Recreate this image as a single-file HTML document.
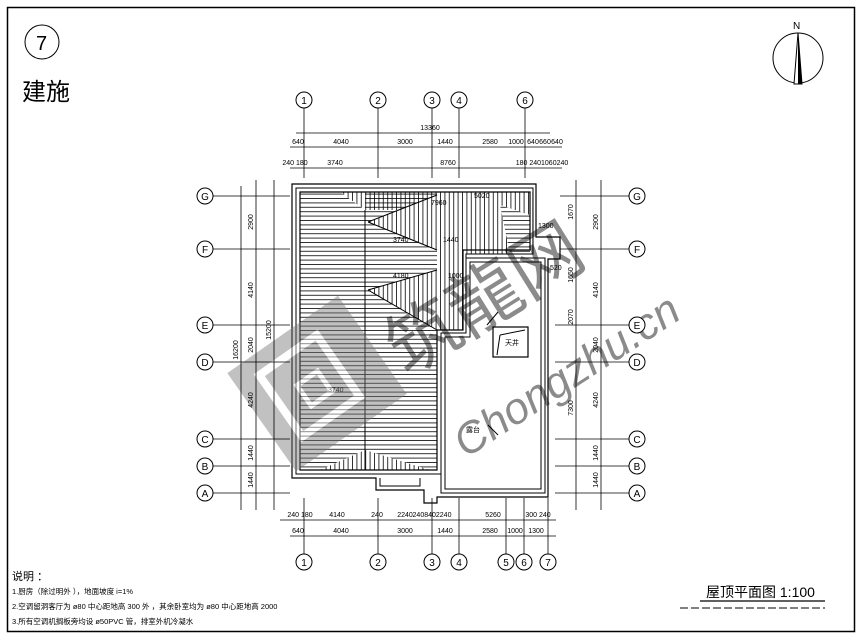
<!DOCTYPE html>
<html><head><meta charset="utf-8"><style>
html,body{margin:0;padding:0;background:#fff;}
svg{display:block;}
text{font-family:"Liberation Sans","Noto Sans CJK SC",sans-serif;fill:#000;}
.d{font-size:7px;}
</style></head><body>
<svg width="862" height="638" viewBox="0 0 862 638" xmlns="http://www.w3.org/2000/svg">
<defs>
<pattern id="hh" width="4" height="4.4" patternUnits="userSpaceOnUse"><line x1="0" y1="0.5" x2="4" y2="0.5" stroke="#000" stroke-width="0.8"/></pattern>
<pattern id="vv" width="4.4" height="4" patternUnits="userSpaceOnUse"><line x1="0.5" y1="0" x2="0.5" y2="4" stroke="#000" stroke-width="0.8"/></pattern>
</defs>
<rect x="0" y="0" width="862" height="638" fill="#fff"/>
<rect x="7.5" y="7.5" width="847" height="624" fill="none" stroke="#000" stroke-width="1.5"/>
<!-- header -->
<circle cx="42" cy="42" r="17" fill="none" stroke="#000"/>
<text x="36" y="50" font-size="20">7</text>
<text x="22" y="100" font-size="24" font-family="Noto Sans CJK SC">建施</text>
<!-- north -->
<circle cx="798" cy="58" r="25" fill="none" stroke="#000"/>
<polygon points="798,33 794,84 802,84" fill="#fff" stroke="#000"/>
<polygon points="798,33 798,84 802,84" fill="#000"/>
<text x="793" y="29" font-size="10">N</text>

<!-- roof hatching -->
<rect x="300" y="192" width="137" height="278" fill="url(#hh)"/>
<rect x="437" y="192" width="96" height="62" fill="url(#vv)"/>
<rect x="437" y="254" width="26" height="76" fill="url(#vv)"/>
<rect x="300" y="192" width="65" height="18" fill="#fff"/>
<rect x="300" y="192" width="137" height="18" fill="url(#vv)"/>
<polygon points="300,192 340,192 365,210 300,210" fill="#fff"/>
<polygon points="300,192 340,192 365,210 300,210" fill="url(#hh)"/>
<polygon points="437,195 368,222 437,250" fill="#fff"/>
<polygon points="437,195 368,222 437,250" fill="url(#vv)"/>
<polygon points="437,270 368,290 437,330" fill="#fff"/>
<polygon points="437,270 368,290 437,330" fill="url(#vv)"/>
<polygon points="500,205 530,215 530,254 510,254" fill="#fff"/>
<polygon points="500,205 530,215 530,254 510,254" fill="url(#hh)"/>
<polygon points="320,470 365,450 430,470" fill="#fff"/>
<polygon points="320,470 365,450 430,470" fill="url(#vv)"/>
<!-- roof outlines -->
<g fill="none" stroke="#000">
<path d="M292,184 H536 V237 H560 V259 H548 V497 H437 V503 H424 V490 H376 V478 H292 Z" stroke-width="1.2"/>
<path d="M296,188 H533 V254 H466 V333 H441 V474 H296 Z"/>
<path d="M300,192 H530 V250 H463 V330 H437 V470 H300 Z" stroke-width="1.2"/>
<path d="M441,333 H466 V258 H545 V493 H441 Z"/>
<path d="M445,337 H470 V262 H541 V489 H445 Z"/>
<path d="M380,478 V486 H420 V478"/>
<line x1="365" y1="210" x2="365" y2="470"/>
<line x1="437" y1="195" x2="368" y2="222"/><line x1="437" y1="250" x2="368" y2="222"/>
<line x1="437" y1="270" x2="368" y2="290"/><line x1="437" y1="330" x2="368" y2="290"/>
<rect x="493" y="327" width="35" height="30" stroke-width="1.2"/>
<line x1="500" y1="335" x2="525" y2="330"/>
<line x1="500" y1="335" x2="497" y2="355"/>
<line x1="487" y1="325" x2="498" y2="312"/>
<line x1="488" y1="425" x2="498" y2="435"/>
</g>
<text x="505" y="345" font-size="7" font-family="Noto Sans CJK SC">天井</text>
<text x="466" y="432" font-size="7" font-family="Noto Sans CJK SC">露台</text>
<g class="d" font-size="6">
<text x="431" y="205">7960</text><text x="474" y="198">5020</text><text x="393" y="242">3740</text><text x="443" y="242">1440</text>
<text x="393" y="278">4180</text><text x="448" y="278">1000</text><text x="328" y="392">3740</text><text x="538" y="228">1300</text><text x="550" y="270">520</text>
</g>

<!-- watermark -->
<g opacity="0.45">
<g transform="rotate(-35 315 385)">
<rect x="250" y="325" width="135" height="120" fill="#777"/>
<rect x="275" y="345" width="70" height="75" fill="none" stroke="#fff" stroke-width="8"/>
<rect x="300" y="375" width="25" height="25" fill="none" stroke="#fff" stroke-width="5"/>
</g>
<text x="370" y="330" font-size="72" transform="rotate(-32 470 290)" fill="#777" font-family="Noto Sans CJK SC">筑龍网</text>
<text x="410" y="410" font-size="44" font-style="italic" transform="rotate(-33 520 340)" fill="#777">Chongzhu.cn</text>
</g>

<!-- grid lines and circles -->
<g stroke="#000" stroke-width="0.8" fill="none">
<line x1="304" y1="108" x2="304" y2="178"/><line x1="378" y1="108" x2="378" y2="178"/><line x1="432" y1="108" x2="432" y2="178"/><line x1="459" y1="108" x2="459" y2="178"/><line x1="525" y1="108" x2="525" y2="178"/>
<line x1="304" y1="498" x2="304" y2="554"/><line x1="378" y1="498" x2="378" y2="554"/><line x1="432" y1="498" x2="432" y2="554"/><line x1="459" y1="498" x2="459" y2="554"/><line x1="506" y1="498" x2="506" y2="554"/><line x1="524" y1="498" x2="524" y2="554"/><line x1="548" y1="498" x2="548" y2="554"/>
<line x1="296" y1="133" x2="550" y2="133"/>
<line x1="290" y1="147" x2="562" y2="147"/>
<line x1="290" y1="168" x2="562" y2="168"/>
<line x1="280" y1="520" x2="556" y2="520"/>
<line x1="290" y1="536" x2="556" y2="536"/>
<line x1="241" y1="186" x2="241" y2="510"/><line x1="256" y1="180" x2="256" y2="510"/><line x1="274" y1="180" x2="274" y2="510"/>
<line x1="576" y1="180" x2="576" y2="510"/><line x1="601" y1="180" x2="601" y2="510"/>
<line x1="213" y1="196" x2="290" y2="196"/><line x1="213" y1="249" x2="290" y2="249"/><line x1="213" y1="325" x2="290" y2="325"/><line x1="213" y1="362" x2="290" y2="362"/><line x1="213" y1="439" x2="290" y2="439"/><line x1="213" y1="466" x2="290" y2="466"/><line x1="213" y1="493" x2="290" y2="493"/>
<line x1="560" y1="196" x2="629" y2="196"/><line x1="560" y1="249" x2="629" y2="249"/><line x1="555" y1="325" x2="629" y2="325"/><line x1="555" y1="362" x2="629" y2="362"/><line x1="555" y1="439" x2="629" y2="439"/><line x1="555" y1="466" x2="629" y2="466"/><line x1="555" y1="493" x2="629" y2="493"/>
</g>
<g fill="#fff" stroke="#000">
<circle cx="304" cy="100" r="8"/><circle cx="378" cy="100" r="8"/><circle cx="432" cy="100" r="8"/><circle cx="459" cy="100" r="8"/><circle cx="525" cy="100" r="8"/>
<circle cx="304" cy="562" r="8"/><circle cx="378" cy="562" r="8"/><circle cx="432" cy="562" r="8"/><circle cx="459" cy="562" r="8"/><circle cx="506" cy="562" r="8"/><circle cx="524" cy="562" r="8"/><circle cx="548" cy="562" r="8"/>
<circle cx="205" cy="196" r="8"/><circle cx="205" cy="249" r="8"/><circle cx="205" cy="325" r="8"/><circle cx="205" cy="362" r="8"/><circle cx="205" cy="439" r="8"/><circle cx="205" cy="466" r="8"/><circle cx="205" cy="493" r="8"/>
<circle cx="637" cy="196" r="8"/><circle cx="637" cy="249" r="8"/><circle cx="637" cy="325" r="8"/><circle cx="637" cy="362" r="8"/><circle cx="637" cy="439" r="8"/><circle cx="637" cy="466" r="8"/><circle cx="637" cy="493" r="8"/>
</g>
<g font-size="10" text-anchor="middle">
<text x="304" y="104">1</text><text x="378" y="104">2</text><text x="432" y="104">3</text><text x="459" y="104">4</text><text x="525" y="104">6</text>
<text x="304" y="566">1</text><text x="378" y="566">2</text><text x="432" y="566">3</text><text x="459" y="566">4</text><text x="506" y="566">5</text><text x="524" y="566">6</text><text x="548" y="566">7</text>
<text x="205" y="200">G</text><text x="205" y="253">F</text><text x="205" y="329">E</text><text x="205" y="366">D</text><text x="205" y="443">C</text><text x="205" y="470">B</text><text x="205" y="497">A</text>
<text x="637" y="200">G</text><text x="637" y="253">F</text><text x="637" y="329">E</text><text x="637" y="366">D</text><text x="637" y="443">C</text><text x="637" y="470">B</text><text x="637" y="497">A</text>
</g>
<g class="d" font-size="6.5" text-anchor="middle">
<text x="430" y="130">13360</text>
<text x="298" y="144">640</text><text x="341" y="144">4040</text><text x="405" y="144">3000</text><text x="445" y="144">1440</text><text x="490" y="144">2580</text><text x="516" y="144">1000</text><text x="533" y="144">640</text><text x="545" y="144">660</text><text x="557" y="144">640</text>
<text x="295" y="165">240 180</text><text x="335" y="165">3740</text><text x="448" y="165">8760</text><text x="542" y="165">180 2401060240</text>
<text x="300" y="517">240 180</text><text x="337" y="517">4140</text><text x="377" y="517">240</text><text x="405" y="517">2240</text><text x="432" y="517">2408402240</text><text x="493" y="517">5260</text><text x="538" y="517">300 240</text>
<text x="298" y="533">640</text><text x="341" y="533">4040</text><text x="405" y="533">3000</text><text x="445" y="533">1440</text><text x="490" y="533">2580</text><text x="515" y="533">1000</text><text x="536" y="533">1300</text>
</g>
<g class="d" font-size="6.5" text-anchor="middle">
<text transform="translate(253,222) rotate(-90)">2900</text><text transform="translate(253,290) rotate(-90)">4140</text><text transform="translate(253,345) rotate(-90)">2040</text><text transform="translate(253,400) rotate(-90)">4240</text><text transform="translate(253,453) rotate(-90)">1440</text><text transform="translate(253,480) rotate(-90)">1440</text>
<text transform="translate(238,350) rotate(-90)">16200</text><text transform="translate(271,330) rotate(-90)">15200</text>
<text transform="translate(598,222) rotate(-90)">2900</text><text transform="translate(598,290) rotate(-90)">4140</text><text transform="translate(598,345) rotate(-90)">2040</text><text transform="translate(598,400) rotate(-90)">4240</text><text transform="translate(598,453) rotate(-90)">1440</text><text transform="translate(598,480) rotate(-90)">1440</text>
<text transform="translate(573,212) rotate(-90)">1670</text><text transform="translate(573,317) rotate(-90)">2070</text><text transform="translate(573,408) rotate(-90)">7300</text><text transform="translate(573,275) rotate(-90)">1650</text>
</g>

<!-- notes -->
<text x="12" y="580" font-size="11" font-family="Noto Sans CJK SC">说明 ：</text>
<text x="12" y="594" font-size="7.5" font-family="Noto Sans CJK SC">1.厨房（除过明外 ），地面坡度 i=1%</text>
<text x="12" y="609" font-size="7.5" font-family="Noto Sans CJK SC">2.空调留洞客厅为 ø80 中心距地高 300 外 ，其余卧室均为 ø80 中心距地高 2000</text>
<text x="12" y="624" font-size="7.5" font-family="Noto Sans CJK SC">3.所有空调机搁板旁均设 ø50PVC 管，排室外机冷凝水</text>
<!-- title -->
<text x="706" y="597" font-size="14" font-family="Noto Sans CJK SC">屋顶平面图 1:100</text>
<line x1="700" y1="601" x2="825" y2="601" stroke="#000" stroke-width="1.2"/>
<line x1="680" y1="608" x2="825" y2="608" stroke="#000" stroke-dasharray="8 3"/>
</svg>
</body></html>
